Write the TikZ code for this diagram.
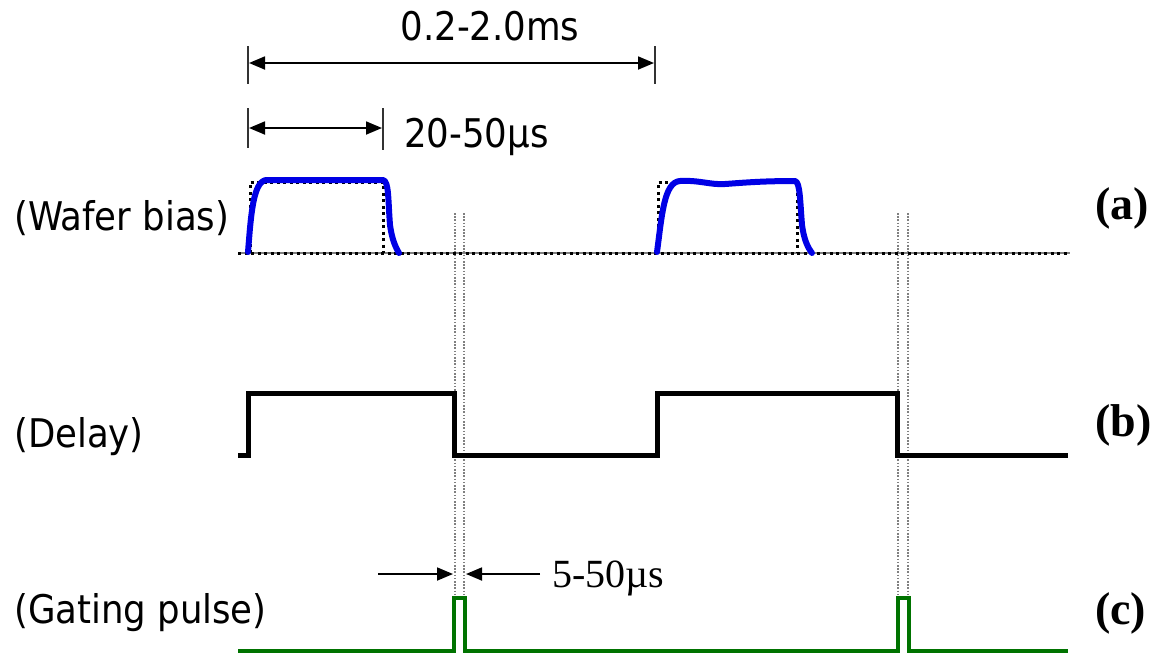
\documentclass[tikz,border=0pt]{standalone}
\usepackage{fontspec}
\setmainfont{Liberation Serif}
\newfontfamily\labfont{DejaVu Sans Condensed}
\usetikzlibrary{arrows.meta}
\tikzset{
  lab/.style={font=\labfont\fontsize{39.5}{42}\selectfont, inner sep=0pt, anchor=west},
  tag/.style={font=\bfseries\fontsize{46}{50}\selectfont, inner sep=0pt, anchor=west},
  dimarrow/.style={line width=1.8pt, {Triangle[length=16pt,width=13pt]}-{Triangle[length=16pt,width=13pt]}},
  onearrow/.style={line width=1.8pt, -{Triangle[length=16pt,width=13pt]}},
  tick/.style={line width=2pt, black!80},
  guide/.style={line width=1.6pt, gray, dash pattern=on 1.6pt off 1.6pt},
  ideal/.style={line width=3pt, black, dash pattern=on 3pt off 3.5pt},
  bluewave/.style={line width=6pt, blue!90!black, line join=round, line cap=round},
  delaywave/.style={line width=5pt, black, line join=miter},
  gatewave/.style={line width=4.5pt, green!45!black, line join=miter},
}
\begin{document}
\begin{tikzpicture}[x=1pt,y=-1pt]
\useasboundingbox (0,0) rectangle (1158,654);
% guide lines
\draw[guide] (455,213) -- (455,654);
\draw[guide] (464,213) -- (464,654);
\draw[guide] (898,213) -- (898,654);
\draw[guide] (908,213) -- (908,654);
% dimension ticks
\coordinate (t1a) at (248,46); \coordinate (t1b) at (248,84);
\coordinate (t2a) at (655,46); \coordinate (t2b) at (655,84);
\coordinate (t3a) at (248,108); \coordinate (t3b) at (248,148);
\coordinate (t4a) at (383,108); \coordinate (t4b) at (383,150);
\draw[tick] (t1a) -- (t1b);
\draw[tick] (t2a) -- (t2b);
\draw[tick] (t3a) -- (t3b);
\draw[tick] (t4a) -- (t4b);
\coordinate (d1a) at (249,63); \coordinate (d1b) at (654,63);
\coordinate (d2a) at (249,128); \coordinate (d2b) at (382,128);
\draw[dimarrow] (d1a) -- (d1b);
\draw[dimarrow] (d2a) -- (d2b);
\node[lab, anchor=center] (tlong) at (490,26) {0.2-2.0ms};
\node[lab] (tshort) at (404,137) {20-50\textmu s};
% wafer bias
\draw[line width=1.5pt, gray] (238,253) -- (1070,253);
\draw[ideal] (238,253) -- (1070,253);
\draw[ideal] (250,253) -- (250,182) -- (383,182) -- (383,253);
\draw[ideal] (658,253) -- (658,182) -- (797,182) -- (797,253);
\draw[bluewave] (248,252) .. controls (251,215) and (253,182) .. (266,180)
  -- (383,180) .. controls (389,181) and (388,200) .. (390,225) .. controls (392,240) and (396,248) .. (399,253);
\draw[bluewave] (657,252) .. controls (662,215) and (664,182) .. (680,181)
  .. controls (700,180) and (710,185) .. (725,184) .. controls (740,183) and (760,181) .. (795,181)
  .. controls (800,182) and (800,200) .. (802,225) .. controls (804,240) and (808,248) .. (812,253);
% delay
\draw[delaywave] (238,455) -- (248,455) -- (248,393) -- (454,393) -- (454,455)
  -- (657,455) -- (657,393) -- (897,393) -- (897,455) -- (1068,455);
% gating pulse
\draw[gatewave] (238,651) -- (454,651) -- (454,598) -- (465,598) -- (465,651) -- (898,651)
  -- (898,598) -- (909,598) -- (909,651) -- (1068,651);
\coordinate (g1) at (378,574); \coordinate (g2) at (453,574);
\coordinate (g3) at (540,574); \coordinate (g4) at (466,574);
\draw[onearrow] (g1) -- (g2);
\draw[onearrow] (g3) -- (g4);
\node[font=\fontsize{40}{44}\selectfont, inner sep=0pt, anchor=west] (tgate) at (552,578) {5-50\textmu s};
% labels
\node[lab] (lw) at (14,218) {(Wafer bias)};
\node[lab] (ld) at (14,437) {(Delay)};
\node[lab] (lg) at (14,613) {(Gating pulse)};
\node[tag] (ta) at (1095,208) {(a)};
\node[tag] (tb) at (1095,425) {(b)};
\node[tag] (tc) at (1095,613) {(c)};
\end{tikzpicture}
\end{document}
